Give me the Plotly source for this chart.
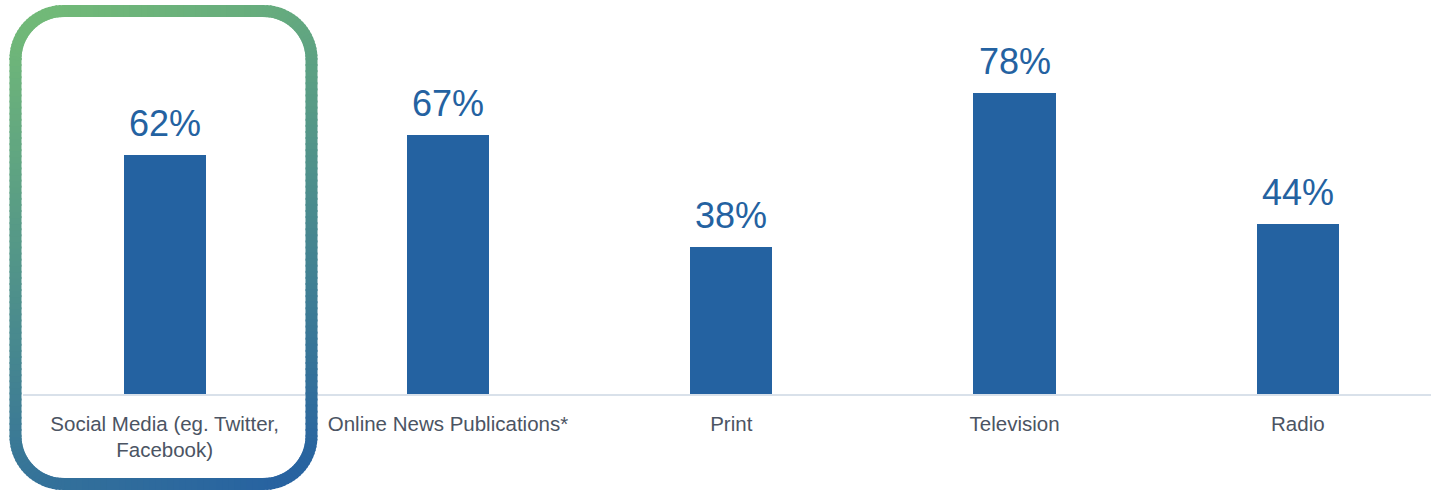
import numpy as np
import plotly.graph_objects as go

categories = ["Social Media (eg. Twitter,<br>Facebook)", "Online News Publications*", "Print", "Television", "Radio"]
values = [62, 67, 38, 78, 44]
value_labels = ["62%", "67%", "38%", "78%", "44%"]

W, H = 1431, 490
ML, MR, MT, MB = 23, 0, 8, 96
PW, PH = W - ML - MR, H - MT - MB

BAR = "#2462A1"
TXT = "#4b5463"

fig = go.Figure()
fig.add_trace(go.Bar(
    x=list(range(len(categories))), y=values, width=0.29,
    marker=dict(color=BAR, line=dict(width=0)),
    hoverinfo="skip", showlegend=False,
))

for i, (v, lab) in enumerate(zip(values, value_labels)):
    fig.add_annotation(x=i, y=v, text=lab, showarrow=False, yanchor="bottom",
                       yshift=9, font=dict(family="Liberation Sans, Arial", size=36, color=BAR))

# gradient rounded rectangle highlight (pixel geometry -> paper coords)
x0, x1, y0, y1, r = 15.5, 311.5, 11, 484, 48
pts = []
def arc(cx, cy, a0, a1, n=24):
    for a in np.linspace(a0, a1, n):
        pts.append((cx + r*np.cos(a), cy + r*np.sin(a)))
pts.append((x0 + r, y0)); pts.append((x1 - r, y0))
arc(x1 - r, y0 + r, -np.pi/2, 0)
pts.append((x1, y1 - r))
arc(x1 - r, y1 - r, 0, np.pi/2)
pts.append((x0 + r, y1))
arc(x0 + r, y1 - r, np.pi/2, np.pi)
pts.append((x0, y0 + r))
arc(x0 + r, y0 + r, np.pi, 1.5*np.pi)
dense = []
for (ax, ay), (bx, by) in zip(pts, pts[1:] + pts[:1]):
    d = np.hypot(bx - ax, by - ay)
    n = max(1, int(d // 6))
    for k in range(n):
        t = k / n
        dense.append((ax + (bx - ax)*t, ay + (by - ay)*t))
c0 = np.array([116, 188, 119]); c1 = np.array([38, 97, 162])
def topaper(px, py):
    return (px - ML) / PW, (H - MB - py) / PH
N = len(dense)
for k in range(N):
    ax, ay = dense[k]; bx, by = dense[(k + 1) % N]
    dx, dy = bx - ax, by - ay
    L = np.hypot(dx, dy) or 1
    ax2, ay2 = ax - dx/L*1.0, ay - dy/L*1.0
    bx2, by2 = bx + dx/L*1.0, by + dy/L*1.0
    mx, my = (ax + bx)/2, (ay + by)/2
    t = 0.8*(my - y0)/(y1 - y0) + 0.2*(mx - x0)/(x1 - x0)
    t = min(max(t, 0), 1)
    c = c0 + (c1 - c0)*t
    px0, py0 = topaper(ax2, ay2); px1, py1 = topaper(bx2, by2)
    fig.add_shape(type="line", xref="paper", yref="paper", x0=px0, y0=py0, x1=px1, y1=py1,
                  line=dict(color="rgb(%d,%d,%d)" % tuple(c.astype(int)), width=12), layer="above")

fig.update_layout(
    width=W, height=H, margin=dict(l=ML, r=MR, t=MT, b=MB),
    plot_bgcolor="white", paper_bgcolor="white",
    font=dict(family="Liberation Sans, Arial", size=20, color=TXT),
    bargap=0,
)
fig.update_xaxes(range=[-0.5, 4.47], tickmode="array", tickvals=list(range(len(categories))),
                 ticktext=categories, showline=True, linecolor="#D9E1EA", linewidth=2,
                 showgrid=False, zeroline=False, ticks="", ticklabelstandoff=10,
                 tickfont=dict(size=20.5, color=TXT))
fig.update_yaxes(range=[0, 100], visible=False, showgrid=False, zeroline=False)

fig.write_html("out.html")
